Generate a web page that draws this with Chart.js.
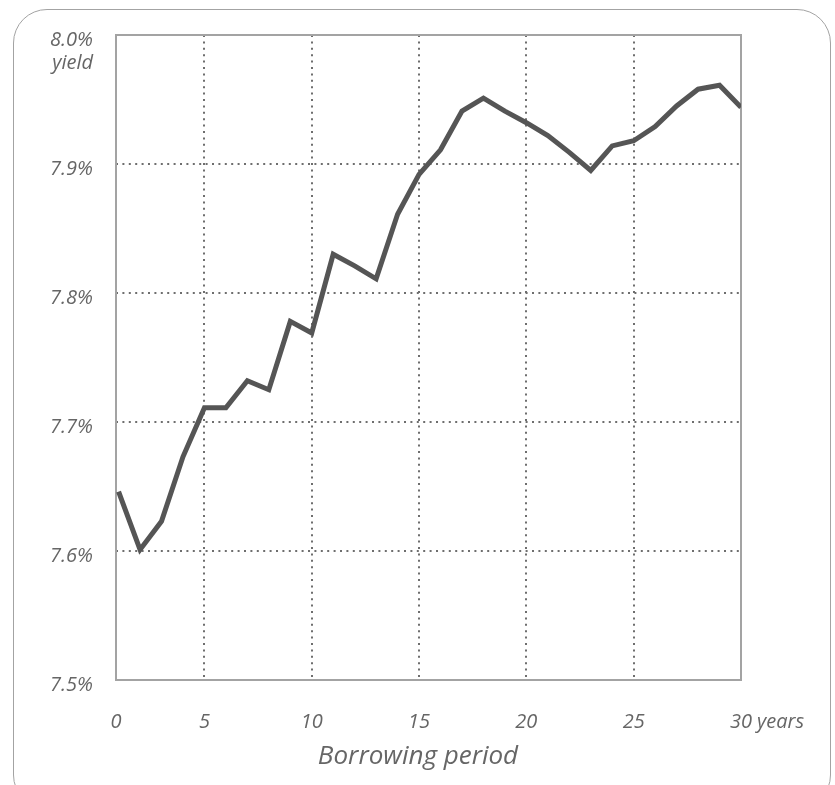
<!DOCTYPE html>
<html>
<head>
<meta charset="utf-8">
<script src="https://cdn.jsdelivr.net/npm/chart.js@4.4.1/dist/chart.umd.min.js"></script>
<style>
    html, body { margin: 0; padding: 0; background: #fff; }
    #wrap { position: relative; width: 835px; height: 785px; overflow: hidden; }
    #frame {
        position: absolute; left: 13px; top: 9px; width: 818px; height: 800px;
        border: 1.5px solid #a3a3a3; border-radius: 34px; box-sizing: border-box;
    }
    canvas { position: absolute; left: 0; top: 0; }
</style>
</head>
<body>
<div id="wrap">
    <div id="frame"></div>
    <canvas id="chart" width="835" height="785"></canvas>
</div>
<script>
// Borrowing period (years) and yield (%)
const years = [1, 2, 3, 4, 5, 6, 7, 8, 9, 10, 11, 12, 13, 14, 15,
               16, 17, 18, 19, 20, 21, 22, 23, 24, 25, 26, 27, 28, 29, 30];
const yieldValues = [7.646, 7.601, 7.623, 7.673, 7.711, 7.711, 7.732, 7.725, 7.778, 7.769,
                     7.830, 7.821, 7.811, 7.861, 7.892, 7.911, 7.941, 7.951, 7.941, 7.932,
                     7.922, 7.909, 7.895, 7.914, 7.918, 7.929, 7.945, 7.958, 7.961, 7.944];
const xTicks = [0, 5, 10, 15, 20, 25, 30];
const yTicks = [7.5, 7.6, 7.7, 7.8, 7.9, 8.0];
const xStart = 0.88; // left edge of the plot, labelled "0"

const FONT = '"Open Sans", "DejaVu Sans", sans-serif';
const TEXT = '#666';

// frame round the plot plus the few loose texts
const extras = {
    id: 'extras',
    beforeDatasetsDraw(chart) {
        const a = chart.chartArea;
        const ctx = chart.ctx;
        ctx.save();
        ctx.strokeStyle = '#a3a3a3';
        ctx.lineWidth = 2;
        ctx.strokeRect(a.left, a.top, a.right - a.left, a.bottom - a.top);
        ctx.restore();
    },
    afterDraw(chart) {
        const ctx = chart.ctx;
        const x = chart.scales.x;
        const y = chart.scales.y;
        ctx.save();
        ctx.fillStyle = TEXT;
        ctx.textBaseline = 'middle';
        // "yield" under the top tick label
        ctx.font = 'italic 20px ' + FONT;
        ctx.textAlign = 'right';
        ctx.fillText('yield', chart.chartArea.left - 23, y.getPixelForValue(8.0) + 28);
        // "years" after the last x tick
        ctx.textAlign = 'left';
        ctx.fillText('years', x.getPixelForValue(30) + 16, 722);
        // axis title
        ctx.font = 'italic 26px ' + FONT;
        ctx.textAlign = 'center';
        ctx.fillText('Borrowing period', 418, 757);
        ctx.restore();
    }
};

const ctx = document.getElementById('chart').getContext('2d');
new Chart(ctx, {
    type: 'line',
    data: {
        labels: years,
        datasets: [{
            data: years.map((yr, i) => ({ x: yr, y: yieldValues[i] })),
            borderColor: '#555',
            borderWidth: 5,
            borderJoinStyle: 'miter',
            pointRadius: 0,
            tension: 0,
            fill: false
        }]
    },
    options: {
        responsive: false,
        animation: false,
        layout: { padding: { left: 0, top: 34, right: 94, bottom: 0 } },
        plugins: {
            legend: { display: false },
            tooltip: { enabled: false }
        },
        scales: {
            x: {
                type: 'linear',
                min: xStart,
                max: 30,
                afterBuildTicks: s => { s.ticks = xTicks.map(v => ({ value: v === 0 ? xStart : v })); },
                afterFit: s => { s.height = 105; },
                grid: { color: '#6e6e6e', lineWidth: 2, drawTicks: false },
                border: { display: false, dash: [2, 4.4] },
                ticks: {
                    padding: 30,
                    color: TEXT,
                    font: { family: FONT, size: 20, style: 'italic' },
                    maxRotation: 0,
                    callback: v => v === xStart ? '0' : String(v)
                }
            },
            y: {
                min: 7.5,
                max: 8.0,
                afterBuildTicks: s => { s.ticks = yTicks.map(v => ({ value: v })); },
                afterFit: s => { s.width = 116; },
                grid: { color: '#6e6e6e', lineWidth: 2, drawTicks: false },
                border: { display: false, dash: [2, 4.4] },
                ticks: {
                    padding: 23,
                    labelOffset: 5,
                    color: TEXT,
                    font: { family: FONT, size: 20, style: 'italic' },
                    callback: v => v.toFixed(1) + '%'
                }
            }
        }
    },
    plugins: [extras]
});
</script>
</body>
</html>
